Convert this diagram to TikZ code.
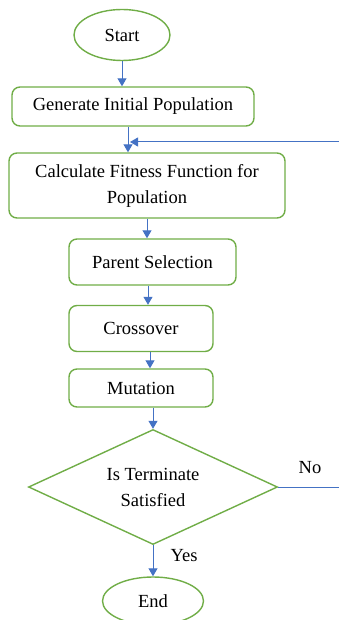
\documentclass[tikz,border=0pt]{standalone}
\usepackage{fontspec}
\setmainfont{Liberation Serif}
\usetikzlibrary{shapes.geometric,arrows.meta}
\definecolor{gborder}{RGB}{112,173,71}
\definecolor{barrow}{RGB}{68,114,196}
\tikzset{
  box/.style={draw=gborder, line width=1.4pt, rounded corners=8pt, inner sep=0pt, align=center, font=\fontsize{18.5}{26}\selectfont},
  term/.style={draw=gborder, line width=1.4pt, ellipse, inner sep=0pt, font=\fontsize{18.5}{26}\selectfont},
  decision/.style={draw=gborder, line width=1.4pt, diamond, aspect=2.16, inner sep=0pt, align=center, font=\fontsize{18.5}{26}\selectfont},
  flow/.style={draw=barrow, line width=1pt, -{Triangle[length=8pt,width=9pt]}},
  lbl/.style={font=\fontsize{18.5}{20}\selectfont}
}
\begin{document}
\begin{tikzpicture}[x=1pt,y=-1pt]
\useasboundingbox (0,0) rectangle (339,620);
\node[term, minimum width=96pt, minimum height=51pt] (start) at (122,35) {Start};
\node[box, minimum width=242pt, minimum height=39pt] (gen) at (133,106.5) {Generate Initial Population};
\node[box, minimum width=276pt, minimum height=65pt] (calc) at (147,185.5) {Calculate Fitness Function for\\Population};
\node[box, minimum width=167pt, minimum height=46pt] (par) at (152.5,262) {Parent Selection};
\node[box, minimum width=144pt, minimum height=46pt] (cross) at (141,328.5) {Crossover};
\node[box, minimum width=144pt, minimum height=38pt] (mut) at (141,388) {Mutation};
\node[decision, minimum width=249pt, minimum height=115pt] (dec) at (153,487) {Is Terminate\\Satisfied};
\node[term, minimum width=101pt, minimum height=48pt] (end) at (153,601) {End};
\node[lbl] (yes) at (184,556) {Yes};
\node[lbl] (no) at (310,468) {No};
\coordinate (loopin) at (130,142);
\coordinate (loopr1) at (345,487);
\coordinate (loopr2) at (345,142);
\draw[flow] (start.south -| 122,0) -- (gen.north -| 122,0);
\draw[flow] (gen.south -| 128,0) -- (calc.north -| 128,0);
\draw[flow] (calc.south -| 147,0) -- (par.north -| 147,0);
\draw[flow] (par.south -| 148,0) -- (cross.north -| 148,0);
\draw[flow] (cross.south -| 150,0) -- (mut.north -| 150,0);
\draw[flow] (mut.south -| 153,0) -- (dec.north);
\draw[flow] (dec.south) -- (end.north);
\draw[flow] (dec.east) -- (loopr1) -- (loopr2) -- (loopin);
\end{tikzpicture}
\end{document}
